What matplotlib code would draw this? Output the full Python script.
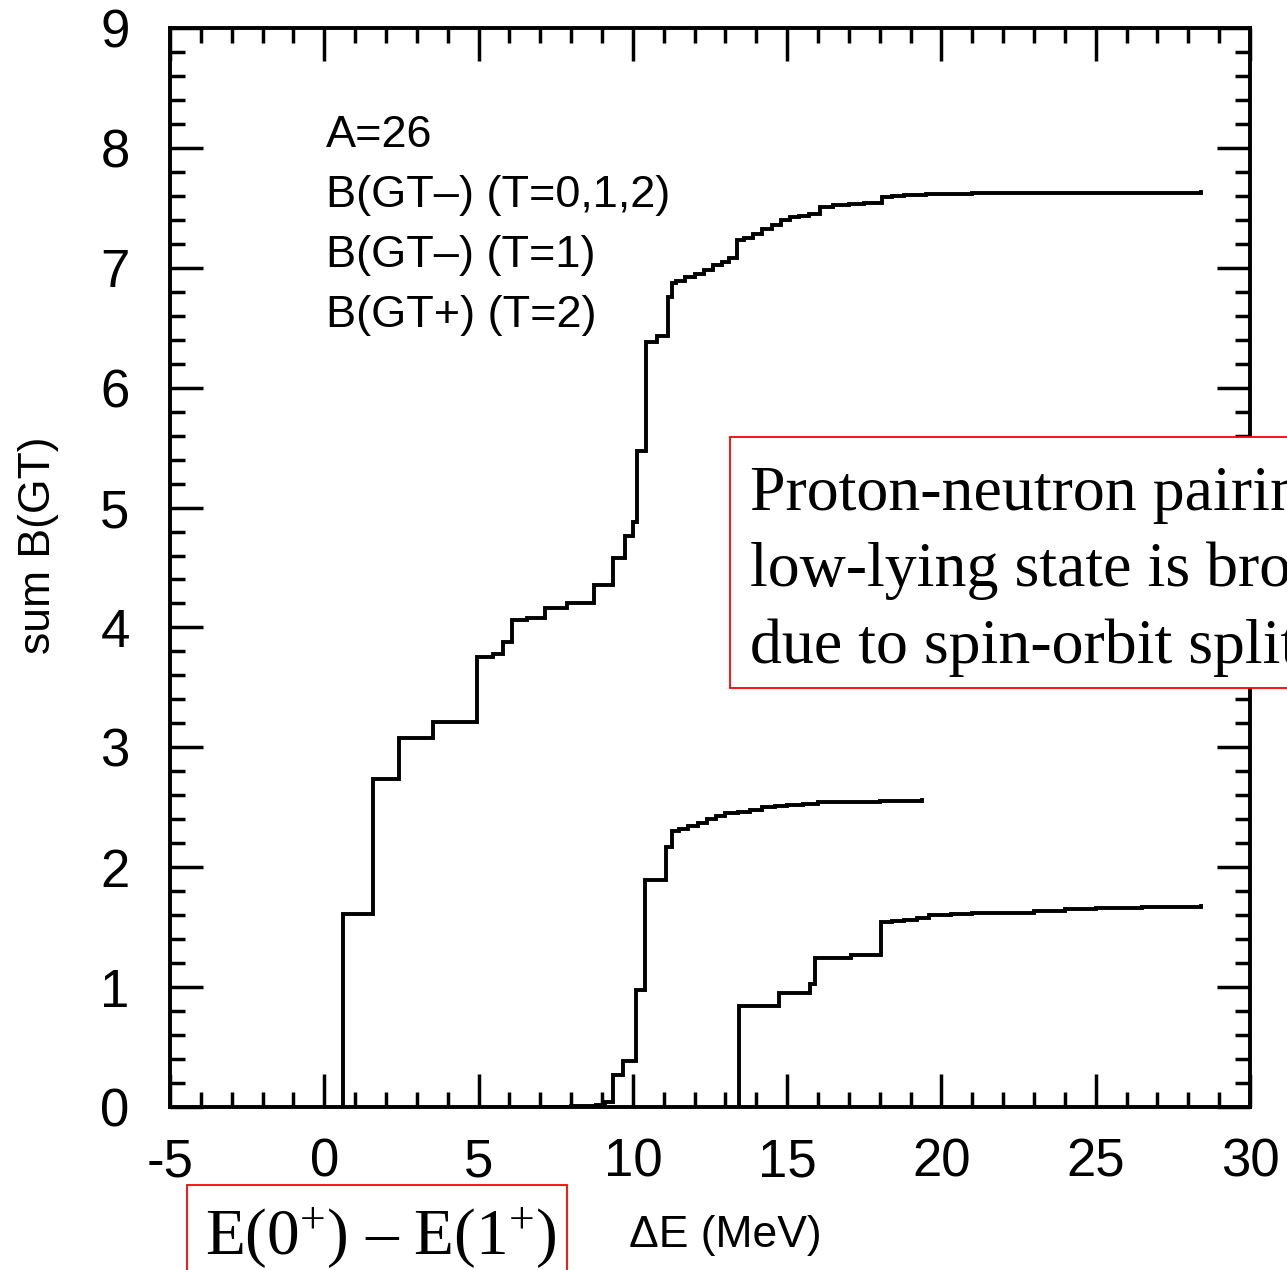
import matplotlib
matplotlib.use("Agg")
import matplotlib.pyplot as plt
from matplotlib.patches import Rectangle
from matplotlib.ticker import MultipleLocator

# ---------------- data ----------------
# B(GT-) (T=0,1,2): step positions (MeV) and cumulative sums
e_all = [0.60, 0.60, 1.57, 2.43, 3.53, 4.94, 5.48, 5.80, 6.07, 6.56, 7.15, 7.86,
         8.75, 9.37, 9.75, 10.02, 10.12, 10.42, 10.77, 11.15, 11.26, 11.40, 11.70,
         12.00, 12.30, 12.60, 12.90, 13.10, 13.37, 13.60, 13.90, 14.20, 14.50,
         14.80, 15.10, 15.40, 15.70, 16.07, 16.50, 17.00, 17.50, 18.06, 18.40,
         18.80, 19.50, 21.00, 24.00, 28.40]
s_all = [0.00, 1.61, 2.74, 3.08, 3.21, 3.75, 3.78, 3.88, 4.06, 4.08, 4.16, 4.20,
         4.35, 4.58, 4.76, 4.88, 5.47, 6.38, 6.43, 6.76, 6.87, 6.89, 6.92,
         6.95, 6.98, 7.02, 7.05, 7.08, 7.23, 7.25, 7.28, 7.32, 7.36,
         7.40, 7.42, 7.43, 7.45, 7.51, 7.52, 7.53, 7.54, 7.59, 7.60,
         7.61, 7.615, 7.62, 7.625, 7.63]

# B(GT-) (T=1)
e_t1 = [7.00, 8.00, 8.80, 9.10, 9.37, 9.69, 10.10, 10.39, 11.09, 11.26, 11.50,
        11.80, 12.10, 12.40, 12.70, 13.00, 13.40, 13.80, 14.20, 14.60, 15.00,
        15.50, 16.00, 17.00, 18.00, 19.36]
s_t1 = [0.00, 0.01, 0.02, 0.04, 0.27, 0.38, 0.98, 1.89, 2.17, 2.30, 2.32,
        2.34, 2.37, 2.40, 2.43, 2.45, 2.46, 2.48, 2.50, 2.51, 2.52,
        2.53, 2.54, 2.545, 2.55, 2.56]

# B(GT+) (T=2)
e_t2 = [13.44, 13.44, 14.75, 15.75, 15.90, 17.07, 18.05, 18.40, 18.80, 19.20,
        19.60, 20.30, 21.00, 22.00, 23.00, 24.00, 25.00, 26.50, 28.40]
s_t2 = [0.00, 0.84, 0.95, 1.03, 1.24, 1.27, 1.54, 1.55, 1.56, 1.58,
        1.60, 1.61, 1.615, 1.62, 1.635, 1.65, 1.66, 1.67, 1.675]

x_ticks = [-5, 0, 5, 10, 15, 20, 25, 30]
y_ticks = [0, 1, 2, 3, 4, 5, 6, 7, 8, 9]
legend_lines = ["A=26", "B(GT\u2013) (T=0,1,2)", "B(GT\u2013) (T=1)", "B(GT+) (T=2)"]
note_lines = ["Proton-neutron pairing", "low-lying state is broadened",
              "due to spin-orbit splitting"]

# ---------------- figure ----------------
plt.rcParams['font.family'] = ['Liberation Sans', 'DejaVu Sans']
plt.rcParams['axes.unicode_minus'] = False
plt.rcParams['mathtext.fontset'] = 'custom'
plt.rcParams['mathtext.rm'] = 'Liberation Serif'
plt.rcParams['mathtext.it'] = 'Liberation Serif:italic'
plt.rcParams['mathtext.bf'] = 'Liberation Serif:bold'

W, H = 1287, 1270
fig = plt.figure(figsize=(W / 100, H / 100), dpi=100)
fig.patch.set_facecolor('white')

L, R, B, T = 170, 1250, 1107, 28
ax = fig.add_axes([L / W, 1 - B / H, (R - L) / W, (B - T) / H])

lw = 2.8
for xs, ys in [(e_all, s_all), (e_t1, s_t1), (e_t2, s_t2)]:
    ax.step(xs, ys, where='post', color='black', lw=lw, solid_joinstyle='miter')

ax.set_xlim(-5, 30)
ax.set_ylim(0, 9)
ax.set_xticks(x_ticks)
ax.set_xticklabels([str(v) for v in x_ticks])
ax.set_yticks(y_ticks)
ax.set_yticklabels([str(v) for v in y_ticks])
ax.xaxis.set_minor_locator(MultipleLocator(1))
ax.yaxis.set_minor_locator(MultipleLocator(0.2))

ax.tick_params(which='both', direction='in', top=True, right=True, width=2.5,
               colors='black')
ax.tick_params(which='major', length=24, labelsize=38)
ax.tick_params(which='minor', length=11)
ax.tick_params(axis='x', which='major', pad=22)
ax.tick_params(axis='y', which='major', pad=29)
for sp in ax.spines.values():
    sp.set_linewidth(2.8)

ax.set_xlabel("\u0394E (MeV)", fontsize=32)
ax.set_ylabel("sum B(GT)", fontsize=32)
ax.xaxis.set_label_coords(0.514, -0.100)
ax.yaxis.set_label_coords(-0.103, 0.521)

# legend-like text block
for i, txt in enumerate(legend_lines):
    fig.text(326 / W, 1 - (147 + 60 * i) / H, txt, fontsize=32.5,
             ha='left', va='baseline')

# red annotation box on the right
fig.patches.append(Rectangle((730 / W, 1 - 688 / H), (1320 - 730) / W, (688 - 437) / H,
                             transform=fig.transFigure, facecolor='white',
                             edgecolor='#ff0000', lw=1.3, zorder=5))
for i, txt in enumerate(note_lines):
    fig.text(750 / W, 1 - (510 + 76.5 * i) / H, txt, fontsize=46,
             family='Liberation Serif', ha='left', va='baseline', zorder=6)

# red box with the energy difference label
fig.patches.append(Rectangle((187 / W, -0.02), (567 - 187) / W, 0.02 + (1270 - 1185) / H,
                             transform=fig.transFigure, facecolor='white',
                             edgecolor='#ff0000', lw=1.3, zorder=5))
fig.text(205 / W, 1 - 1255 / H, "E(0$^{+}$) \u2013 E(1$^{+}$)",
         fontsize=47, family='Liberation Serif', ha='left', va='baseline', zorder=6)

fig.savefig("out.png", dpi=100, facecolor='white')
